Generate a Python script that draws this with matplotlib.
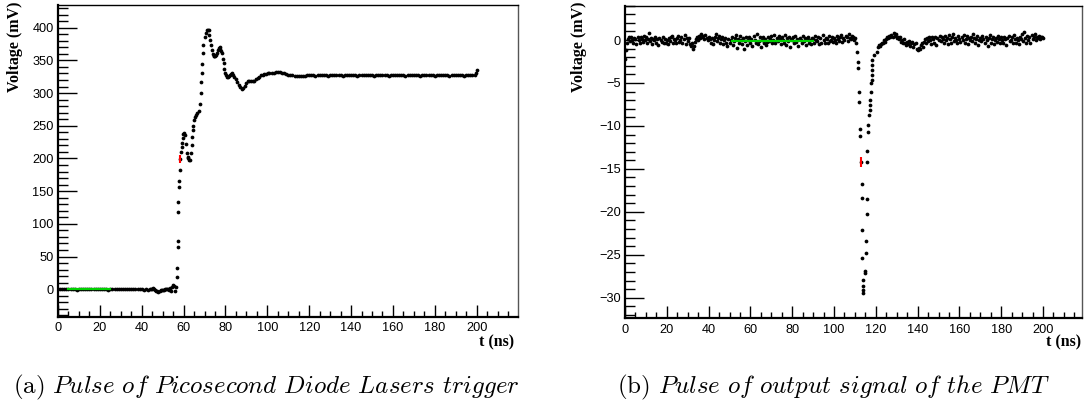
import numpy as np
import matplotlib
matplotlib.use("Agg")
import matplotlib.pyplot as plt
from matplotlib.ticker import MultipleLocator

plt.rcParams['mathtext.fontset'] = 'cm'

# ---------------- (a) laser trigger pulse ----------------
a_t1 = np.arange(0, 44, 1.0)
a_v1 = [0.3, -0.2, 0.1, 0.4, -0.3, 0.0, 0.2, -0.1, 0.3, -0.4,
        0.1, 0.0, -0.2, 0.3, 0.2, -0.3, 0.1, 0.4, -0.1, 0.0,
        0.2, -0.2, 0.3, 0.1, -0.4, 0.0, 0.2, -0.1, 0.3, 0.1,
        -0.2, 0.4, 0.0, -0.3, 0.2, 0.1, -0.1, 0.3, -0.2, 0.0,
        0.5, -0.4, 0.2, -0.6]

a_t2 = np.arange(44, 56.5, 0.5)
a_v2 = [0.0, 0.5, 1.0, 1.5, 0.5, -1.0, -2.0, -3.0, -3.5, -2.5,
        -1.5, -1.0, -1.5, -0.5, 0.0, 0.5, 1.0, 0.0, -1.0, 2.5,
        -2.5, 4.0, 6.0, 5.0, -2.5]

a_t3 = [56.4, 56.8, 56.8, 57.1, 57.1, 57.5, 57.5, 57.9, 57.9, 58.4,
        58.4, 58.7, 59.0, 59.2, 59.5, 59.9, 60.2, 60.6, 61.0, 61.5,
        61.9, 62.3, 62.7, 63.1, 63.5, 63.9, 64.2, 64.4, 64.7, 65.0,
        65.5, 66.0, 66.6, 67.2, 67.9, 68.2, 68.4, 68.7, 68.9, 69.2,
        69.5, 70.0, 70.5, 71.1, 71.5, 71.9, 72.3, 72.7, 73.1, 73.5,
        73.9, 74.3, 74.7, 75.1, 75.5, 75.9, 76.3, 76.7, 77.2, 77.6,
        78.0, 78.3, 78.7, 79.1, 79.5, 79.9, 80.3, 80.7, 81.1, 81.6,
        82.0, 82.5, 83.1, 83.6, 84.2, 84.8, 85.5, 86.3, 87.1, 87.8,
        88.5, 89.2, 90.0, 90.7, 91.4, 92.2, 93.0, 93.8, 94.6, 95.4,
        96.2, 97.0, 97.8, 98.6, 99.4, 100.2]
a_v3 = [3, 19, 32, 64, 74, 118, 134, 157, 166, 182,
        199, 210, 218, 224, 231, 238, 239, 236, 222, 208,
        203, 200, 197, 198, 208, 220, 233, 243, 249, 259,
        264, 266, 269, 272, 284, 300, 317, 330, 345, 361,
        373, 386, 392, 396, 397, 396, 389, 381, 373, 366,
        360, 356, 356, 357, 359, 362, 366, 369, 371, 368,
        364, 361, 352, 346, 337, 330, 327, 325, 325, 326,
        328, 329, 330, 328, 325, 321, 317, 312, 310, 307,
        308, 311, 315, 318, 319, 318, 318, 319, 321, 323,
        325, 327, 328, 329, 329, 330]

a_t4 = np.arange(101, 200, 1.0)
a_v4 = [330, 331, 331, 332, 332, 332, 331, 330, 329, 328,
        327, 327, 326, 326, 326, 326, 326, 326, 327, 327,
        327, 327, 326.5, 327, 327, 327.5, 327, 327, 326.5, 327,
        327, 327, 327.5, 327, 327, 326.5, 327, 327, 327, 327.5,
        327, 327, 326.5, 327, 327, 327, 327.5, 327, 327, 327,
        326.5, 327, 327, 327, 327.5, 327, 327, 326.5, 327, 327,
        327, 327.5, 327, 327, 327, 326.5, 327, 327, 327.5, 327,
        327, 327, 326.5, 327, 327, 327, 327.5, 327, 327, 326.5,
        327, 327, 327, 327.5, 327, 327, 326.5, 327, 327, 327,
        327.5, 327, 327, 326.5, 327, 327, 327, 327.5, 328]
a_t5 = [199.6, 200.0]
a_v5 = [331, 335]

a_err = (58.4, 199, 6)          # t, v, error
a_fit = ([5, 25], 0.0)           # baseline fit range, level

# ---------------- (b) PMT output pulse ----------------
b_t1 = np.arange(0, 111, 0.5)
b_v1 = [-2.2, -1.2, -0.3, 0.1, 0.4, -0.1, 0.3, 0.0, -0.4, 0.2, 0.1, -0.5, 0.3, 0.0, -0.3, 0.4, 0.1, -0.2, 0.5, 0.0,
        0.3, -0.4, 0.1, 0.8, -0.1, 0.2, -0.5, 0.1, 0.0, 0.4, -0.3, 0.1, -0.6, 0.2, 0.0, -0.2, 0.4, -0.4, 0.1, -0.3,
        0.0, -0.5, 0.2, -0.1, 0.4, 0.5, -0.3, 0.1, 0.0, -0.4, 0.2, 0.5, -0.2, 0.0, 0.3, -0.3, 0.1, 0.6, -0.5, 0.2,
        -0.1, 0.2, -0.5, -0.7, -0.3, -1.0, -0.7, -0.2, 0.1, 0.3, 0.0, 0.5, 0.2, 0.7, 0.3, 0.5, 0.1, 0.6, 0.2, 0.0,
        0.4, 0.1, -0.3, 0.2, -0.5, 0.0, 0.3, 0.7, -0.1, 0.2, 0.5, -0.3, 0.1, 0.4, -0.5, 0.0, 0.2, -0.4, -0.7, 0.1,
        -0.3, 0.0, 0.4, -0.6, -0.1, 0.2, 0.6, -0.9, 0.1, -0.4, 0.5, 0.0, -0.5, 0.2, -1.0, -0.1, 0.3, -0.6, 0.0, 0.3,
        -0.4, 0.1, -0.7, 0.5, 0.0, -0.3, 0.7, -0.5, -0.1, 0.3, -0.8, 0.0, 0.4, -0.4, 0.1, -0.6, -0.2, 0.4, -0.1, 0.1,
        0.5, -0.3, 0.0, 0.6, -0.4, 0.2, -0.1, 0.5, 0.1, -0.5, 0.3, 0.0, -0.3, 0.6, -0.6, 0.2, -0.1, 0.4, -0.8, 0.1,
        0.0, 0.4, -0.4, 0.5, -0.2, 0.1, -0.7, 0.2, 0.0, -0.4, 0.5, -0.1, 0.2, -0.6, 0.1, 0.4, -0.3, 0.0, -0.5, 0.2,
        0.1, -0.4, 0.5, 0.0, -0.1, 0.3, -0.5, 0.2, -0.3, 0.6, 0.0, -0.4, 0.2, 0.1, -0.3, 0.5, -0.1, 0.0, 0.4, -0.2,
        0.2, 0.0, -0.4, 0.5, 0.1, -0.1, 0.3, 0.6, -0.2, 0.2, 0.0, 0.5, 0.3, -0.1, 0.7, 0.2, 0.1, 0.5, 0.3, 0.0,
        0.2, -0.3]

b_t2 = [111.2, 111.7, 111.7, 112.0, 112.0, 112.4, 112.4, 112.9, 113.2, 113.2,
        113.5, 113.5, 114.0, 114.0, 114.0, 114.0, 114.8, 114.8, 115.2, 115.2,
        115.6, 115.6, 115.9, 115.9, 116.4, 116.4, 116.7, 117.0, 117.0, 117.0,
        117.5, 117.8, 118.0, 118.1, 118.3, 118.3, 118.3, 119.0, 120.4]
b_v2 = [-1.4, -2.6, -3.2, -6.1, -7.2, -10.3, -11.2, -14.2, -16.8, -18.4,
        -22.1, -25.4, -27.9, -28.6, -29.1, -29.5, -26.9, -27.1, -24.8, -23.4,
        -20.2, -18.5, -14.2, -12.9, -10.7, -9.9, -8.7, -8.2, -7.6, -7.0,
        -6.0, -5.0, -4.7, -4.1, -3.5, -2.9, -2.3, -1.75, -1.4]

b_t3 = np.arange(121, 200.5, 0.5)
b_v3 = [-0.8, -0.6, -0.7, -0.5, -0.3, -0.4, 0.0, -0.2, 0.1, 0.3, 0.2, 0.5, 0.3, 0.6, 0.4, 0.8, 0.5, 0.7, 0.2, 0.4,
        0.1, 0.3, -0.2, 0.0, -0.4, 0.1, -0.3, -0.6, -0.2, -0.5, -0.1, -0.7, -0.4, -0.2, -0.8, -0.5, -0.3, -1.0, -1.2, -0.9,
        -1.1, -0.6, -0.4, -0.8, -0.2, 0.1, -0.3, 0.2, -0.1, 0.4, 0.0, -0.5, 0.4, 0.1, -0.3, 0.3, -0.6, 0.2, 0.0, 0.5,
        -0.1, 0.4, 0.1, -0.4, 0.5, 0.0, 0.2, -0.5, 0.6, 0.1, -0.3, 0.3, 0.7, -0.1, 0.2, 0.0, -0.4, 0.5, 0.1, -0.2,
        0.3, 0.0, 0.6, -0.3, 0.1, 0.5, -0.5, 0.2, 0.0, 0.4, -0.1, 0.7, 0.2, -0.4, 0.1, 0.5, -0.6, 0.0, 0.2, -0.1,
        0.5, 0.1, -0.4, 0.3, 0.0, -0.7, 0.2, 0.6, -0.3, 0.1, 0.4, -0.5, 0.0, 0.2, -0.2, 0.5, 0.1, -0.4, 0.3, 0.0,
        -0.3, 0.4, 0.1, -0.6, 0.2, 0.5, -0.1, 0.0, 0.4, -0.4, 0.6, 0.1, -0.3, 0.2, 0.0, -0.5, 0.3, 0.1, 0.7, -0.1,
        0.9, 0.2, -0.4, 0.5, 0.0, 0.3, -0.3, 0.6, 0.1, 0.3, 0.7, 0.0, 0.4, 0.2, 0.5, 0.1, 0.3, 0.4, 0.2]

b_err = (112.9, -14.2, 0.55)
b_fit = ([51, 90], -0.1)

caption_tags = ['(a)', '(b)']
caption_words = [['Pulse', 'of', 'Picosecond', 'Diode', 'Lasers', 'trigger'],
                 ['Pulse', 'of', 'output', 'signal', 'of', 'the', 'PMT']]


def draw_panel(ax, ts, vs, err, fit, xlim, ylim, ymaj, ymin):
    t = np.concatenate([np.asarray(x, float) for x in ts])
    v = np.concatenate([np.asarray(x, float) for x in vs])
    ax.plot(t, v, 'o', color='black', ms=2.7, mew=0, zorder=2)
    ax.plot(fit[0], [fit[1], fit[1]], color='#00d000', lw=1.6, zorder=3)
    ax.errorbar([err[0]], [err[1]], yerr=[err[2]], fmt='none',
                ecolor='red', elinewidth=1.5, capsize=0, zorder=4)
    ax.set_xlim(*xlim)
    ax.set_ylim(*ylim)
    ax.xaxis.set_major_locator(MultipleLocator(20))
    ax.xaxis.set_minor_locator(MultipleLocator(5))
    ax.yaxis.set_major_locator(MultipleLocator(ymaj))
    ax.yaxis.set_minor_locator(MultipleLocator(ymin))
    ax.tick_params(which='both', direction='in', top=False, right=False,
                   labelsize=9.2, width=1, colors='black')
    ax.tick_params(axis='y', which='major', length=14, pad=3)
    ax.tick_params(axis='y', which='minor', length=7)
    ax.tick_params(axis='x', which='major', length=9, pad=4)
    ax.tick_params(axis='x', which='minor', length=4.5)
    for lab in ax.get_xticklabels() + ax.get_yticklabels():
        lab.set_fontfamily('Liberation Sans')
    ax.spines['left'].set_linewidth(1.6)
    ax.spines['bottom'].set_linewidth(1.6)
    ax.spines['top'].set_linewidth(1.0)
    ax.spines['right'].set_linewidth(1.0)
    ax.spines['right'].set_color('#555555')


fig = plt.figure(figsize=(10.86, 4.09), dpi=100)
W, H = 1086.0, 409.0

ax1 = fig.add_axes([58 / W, 1 - 316.7 / H, (517.7 - 58) / W, (316.7 - 4.5) / H])
ax2 = fig.add_axes([625 / W, 1 - 318.3 / H, (1081.7 - 625) / W, (318.3 - 5.7) / H])

draw_panel(ax1, [a_t1, a_t2, a_t3, a_t4, a_t5], [a_v1, a_v2, a_v3, a_v4, a_v5],
           a_err, a_fit, (0, 219.6), (-42, 435.5), 50, 10)
draw_panel(ax2, [b_t1, b_t2, b_t3], [b_v1, b_v2, b_v3],
           b_err, b_fit, (0, 218.5), (-32.4, 4.0), 5, 1)

lab_font = dict(family='Liberation Serif', weight='bold', fontsize=11.5)
fig.text(15 / W, 1 - 1 / H, 'Voltage (mV)', rotation=90, ha='center', va='top', **lab_font)
fig.text(579 / W, 1 - 1 / H, 'Voltage (mV)', rotation=90, ha='center', va='top', **lab_font)
fig.text(514 / W, 1 - 342 / H, 't (ns)', ha='right', va='center', **lab_font)
fig.text(1081 / W, 1 - 342 / H, 't (ns)', ha='right', va='center', **lab_font)

for tag, words, xc in zip(caption_tags, caption_words, [266, 833]):
    txt = r'$\mathrm{' + tag + '}$ ' + ' '.join(r'$\mathit{' + w + '}$' for w in words)
    fig.text(xc / W, 1 - 387 / H, txt, ha='center', va='center', fontsize=18)

fig.savefig('out.png', dpi=100)
